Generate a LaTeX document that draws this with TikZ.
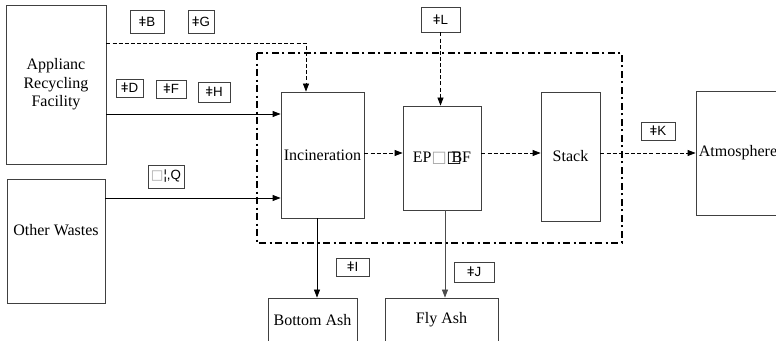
\documentclass[tikz,border=0pt]{standalone}
\usepackage{fontspec}
\setmainfont{Liberation Serif}
\setsansfont{Liberation Sans}
\newfontfamily\symfont{DejaVu Sans}
\usetikzlibrary{arrows.meta}

\begin{document}
\begin{tikzpicture}[x=0.75pt, y=-0.75pt,
  unit/.style={draw=black!75, line width=0.6pt, align=center, inner sep=0pt,
               font=\fontsize{12}{14}\selectfont},
  tag/.style={draw=black!75, line width=0.6pt, inner sep=0pt,
              font=\sffamily\fontsize{10}{12}\selectfont},
  arrow/.style={-{Triangle[length=6pt,width=4.5pt]}, line width=0.6pt},
  flow/.style={arrow, dash pattern=on 3pt off 1.6pt},
]
  \clip (0,0) rectangle (776,341);

  % Process units
  \node[unit, minimum width=75pt, minimum height=119.25pt] (arf) at (56,84.5)
       {Applianc\\Recycling\\Facility};
  \node[unit, minimum width=73.5pt, minimum height=93pt, text depth=16pt] (ows) at (56,241)
       {Other Wastes};
  \node[unit, minimum width=62.25pt, minimum height=94.5pt] (inc) at (322.5,155) {Incineration};
  \node[unit, minimum width=58.5pt, minimum height=78pt] (ep) at (442,158)
       {EP{\symfont\color{black!35}□}\makebox[0.3em][l]{\symfont □}BF};
  \node[unit, minimum width=44.25pt, minimum height=96.75pt] (stk) at (570.5,156.5) {Stack};
  \node[unit, minimum width=63pt, minimum height=93pt] (atm) at (738,153) {Atmosphere};
  \node[unit, minimum width=66.75pt, minimum height=33pt] (bash) at (312.5,320) {Bottom Ash};
  \node[unit, minimum width=84.75pt, minimum height=33pt] (fash) at (441.5,320) {Fly Ash};

  % Stream tags
  \node[tag, minimum width=25.5pt, minimum height=17.25pt] (tb) at (147,21.5) {ǂB};
  \node[tag, minimum width=19.5pt, minimum height=17.25pt] (tg) at (201,21.5) {ǂG};
  \node[tag, minimum width=20.25pt, minimum height=13.5pt] (td) at (129.5,88) {ǂD};
  \node[tag, minimum width=22.5pt, minimum height=13.5pt] (tf) at (171,89) {ǂF};
  \node[tag, minimum width=24pt, minimum height=15pt] (th) at (214,92) {ǂH};
  \node[tag, minimum width=29.25pt, minimum height=18.75pt] (tl) at (440.5,19.5) {ǂL};
  \node[tag, minimum width=27pt, minimum height=17.25pt] (tq) at (166,176.5)
       {{\symfont\color{black!35}□}¦,Q};
  \node[tag, minimum width=25.5pt, minimum height=13.5pt] (tk) at (658,131) {ǂK};
  \node[tag, minimum width=24.75pt, minimum height=13.5pt] (ti) at (352.5,267) {ǂI};
  \node[tag, minimum width=30pt, minimum height=15pt] (tj) at (474,272) {ǂJ};

  % System boundary
  \draw[line width=1.4pt, dash pattern=on 5.5pt off 2.5pt on 1.5pt off 2.5pt]
       (257,53) rectangle (622,243);

  % Feed streams
  \coordinate (bend) at (306,43);
  \draw[flow] (arf.east |- bend) -- (bend) -- (bend |- inc.north);
  \draw[arrow] ([yshift=-22.125pt]arf.east) -- ([yshift=30.75pt]inc.west);
  \draw[arrow] ([yshift=32.25pt]ows.east) -- ([yshift=-32.25pt]inc.west);

  % Gas path
  \draw[flow] ([yshift=1.5pt]inc.east) -- ([yshift=3.75pt]ep.west);
  \draw[flow] ([yshift=3.75pt]ep.east) -- ([yshift=2.625pt]stk.west);
  \draw[flow] ([yshift=2.625pt]stk.east) -- (atm.west);
  \draw[flow] (tl.south) -- (tl.south |- ep.north);

  % Residues
  \draw[arrow] ([xshift=-4.125pt]inc.south) -- ([xshift=-4.125pt]inc.south |- bash.north);
  \draw[arrow, black!70] ([xshift=2.25pt]ep.south) -- ([xshift=2.25pt]ep.south |- fash.north);
\end{tikzpicture}
\end{document}
